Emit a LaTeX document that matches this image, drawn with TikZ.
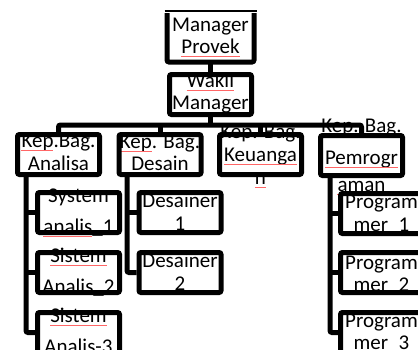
\documentclass[tikz,border=0pt]{standalone}
\usepackage{fontspec}
\setmainfont{Carlito}
\begin{document}
\begin{tikzpicture}[x=1pt,y=-1pt,
  box/.style={draw, line width=5pt, rounded corners=2pt, minimum width=82pt, minimum height=40pt, inner sep=0pt},
  txt/.style={anchor=base, inner sep=0pt, font=\fontsize{21pt}{25pt}\selectfont},
  conn/.style={line width=5pt, rounded corners=2pt},
  spell/.style={draw=red!60, line width=0.5pt}]
\useasboundingbox (0,0) rectangle (418,349);
\clip (0,0) rectangle (418,349);
% ---------- texts ----------
\node[txt] (mgrA) at (210.5,31) {Manager};
\node[txt] (mgrB) at (210.5,53) {Provek};
\node[txt] (wakA) at (210.5,87) {Wakil};
\node[txt] (wakB) at (210.5,109) {Manager};
\node[txt] (anaA) at (58.5,147) {Kep.Bag.};
\node[txt] (anaB) at (58.5,170) {Analisa};
\node[txt] (desA) at (160,148) {Kep. Bag.};
\node[txt] (desB) at (160,170) {Desain};
\node[txt] (keuA) at (260.5,138) {Kep. Bag.};
\node[txt] (keuB) at (260.5,161) {Keuanga};
\node[txt] (keuC) at (260.5,184) {n};
\node[txt] (pemA) at (361.5,132) {Kep. Bag.};
\node[txt] (pemB) at (361.5,164) {Pemrogr};
\node[txt] (pemC) at (361.5,191) {aman};
\node[txt] (s1A) at (78.5,202) {System};
\node[txt] (s1B) at (78.5,233) {analis\_1};
\node[txt] (s2A) at (78.5,262) {Sistem};
\node[txt] (s2B) at (78.5,293) {Analis\_2};
\node[txt] (s3A) at (78.5,322) {Sistem};
\node[txt] (s3B) at (78.5,353) {Analis-3};
\node[txt] (d1A) at (180,207) {Desainer};
\node[txt] (d1B) at (180,230) {1};
\node[txt] (d2A) at (180,267) {Desainer};
\node[txt] (d2B) at (180,290) {2};
\node[txt] (p1A) at (381.5,208) {Program};
\node[txt] (p1B) at (381.5,231) {mer\_1};
\node[txt] (p2A) at (381.5,269) {Program};
\node[txt] (p2B) at (381.5,291) {mer\_2};
\node[txt] (p3A) at (381.5,327) {Program};
\node[txt] (p3B) at (381.5,349) {mer\_3};
% ---------- spell-check underlines ----------
\foreach \w in {mgrB,wakA,anaB,desB,keuB,keuC,pemB,pemC,s2A,s3A}
  \draw[spell] ([yshift=-3pt]\w.base west) -- ([yshift=-3pt]\w.base east);
\draw[spell] ([yshift=-3pt]anaA.base west) -- ([yshift=-3pt,xshift=32pt]anaA.base west);
\draw[spell] ([yshift=-3pt]desA.base west) -- ([yshift=-3pt,xshift=32pt]desA.base west);
\draw[spell] ([yshift=-3pt]s1B.base west) -- ([yshift=-3pt,xshift=49pt]s1B.base west);
\draw[spell] ([yshift=-2pt]pemA.base west) -- ([yshift=-2pt,xshift=53pt]pemA.base west);
% ---------- boxes ----------
\node[box, draw=none, minimum height=44pt] (mgr) at (210.5,37.5) {};
\draw[line width=5pt, rounded corners=2pt] (mgr.north west) -- (mgr.south west) -- (mgr.south east) -- (mgr.north east);
\draw[line width=1.5pt] ([xshift=-2.5pt,yshift=2pt]mgr.north west) -- ([xshift=2.5pt,yshift=2pt]mgr.north east);
\node[box] (wak) at (210.5,94.5) {};
\node[box] (ana) at (58.5,154.5) {};
\node[box] (des) at (160,154.5) {};
\node[box] (keu) at (260.5,154.5) {};
\node[box] (pem) at (361.5,155.5) {};
\node[box] (s1) at (78.5,212.5) {};
\node[box] (s2) at (78.5,272.5) {};
\node[box] (s3) at (78.5,332.5) {};
\node[box] (d1) at (180,212.5) {};
\node[box] (d2) at (180,272.5) {};
\node[box] (p1) at (381.5,213.5) {};
\node[box] (p2) at (381.5,272.5) {};
\node[box] (p3) at (381.5,332.5) {};
% ---------- connectors ----------
\coordinate (barY) at (0,125);
\coordinate (anaV) at (26,0);
\coordinate (desV) at (127,0);
\coordinate (pemV) at (330,0);
\draw[conn] (mgr.south) -- (wak.north);
\draw[conn] (wak.south) -- (wak.south |- barY);
\draw[conn] (ana.north) -- (ana.north |- barY) -- (pem.north |- barY) -- (pem.north);
\draw[conn] (des.north) -- (des.north |- barY);
\draw[conn] (keu.north) -- (keu.north |- barY);
\draw[conn] (anaV |- ana.south) -- (anaV |- s3.west) -- (s3.west);
\draw[conn] (anaV |- s1.west) -- (s1.west);
\draw[conn] (anaV |- s2.west) -- (s2.west);
\draw[conn] (desV |- des.south) -- (desV |- d2.west) -- (d2.west);
\draw[conn] (desV |- d1.west) -- (d1.west);
\draw[conn] (pemV |- pem.south) -- (pemV |- p3.west) -- (p3.west);
\draw[conn] (pemV |- p1.west) -- (p1.west);
\draw[conn] (pemV |- p2.west) -- (p2.west);
\end{tikzpicture}
\end{document}
